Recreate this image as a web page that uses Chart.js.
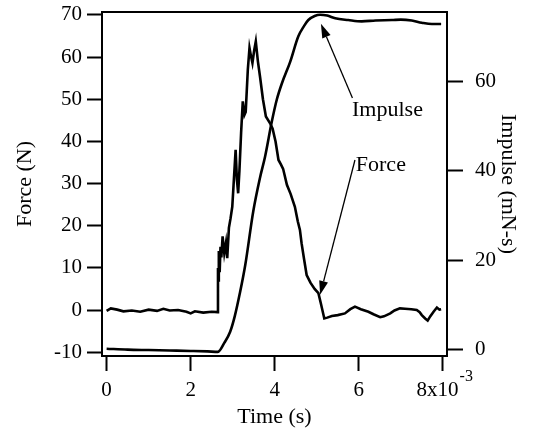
<!DOCTYPE html>
<html><head><meta charset="utf-8">
<script src="https://cdn.jsdelivr.net/npm/chart.js@4"></script>
<style>html,body{margin:0;padding:0;background:#fff}canvas{display:block}</style>
</head><body>
<canvas id="c" width="535" height="430"></canvas>
<script>
// ---- data ----
const forceTime = [0,0.1,0.25,0.4,0.6,0.8,1.0,1.2,1.35,1.5,1.7,1.9,2.0,2.1,2.3,2.5,2.64,
  2.65,2.66,2.67,2.69,2.71,2.73,2.76,2.80,2.84,2.87,2.91,2.95,2.99,3.02,3.07,3.10,3.13,3.16,3.20,3.24,3.28,3.31,3.36,3.40,3.44,3.47,3.51,3.55,3.60,3.65,3.72,3.79,3.89,3.95,4.02,4.09,4.15,4.20,4.29,4.38,4.48,4.55,4.60,4.64,4.70,4.76,4.85,4.95,5.04,5.10,5.18,
  5.25,5.36,5.50,5.67,5.80,5.91,6.05,6.23,6.35,6.51,6.60,6.75,6.85,6.98,7.10,7.25,7.38,7.45,7.50,7.58,7.64,7.70,7.78,7.86,7.92,7.96];
const forceValues = [-0.2,0.4,0.1,-0.3,-0.1,-0.4,0.1,-0.2,0.3,-0.1,0.0,-0.4,-0.8,-0.3,-0.6,-0.4,-0.5,
  10,7,14,9,15,12.5,17.5,13.5,16,12.3,19.5,21.8,24.5,29.5,38,31,27.7,33,42,49.5,46.3,47,57,62.2,60,58.6,61.5,63.7,59,55.4,50,45.9,44.3,43,40,35.6,34.5,33.5,29.7,27.5,24.5,21,19,15.8,12,8.3,6.5,5,4,1.5,-2,
  -1.8,-1.4,-1.2,-0.8,0.2,0.8,0.2,-0.4,-1,-1.7,-1.5,-0.8,-0.1,0.4,0.3,0.2,0,-0.5,-1.2,-2,-2.5,-1.5,-0.4,0.6,0.1,0.2];
const impulseTime = [0,0.5,1.0,1.5,2.0,2.4,2.65,2.8,2.94,3.05,3.17,3.3,3.49,3.65,3.77,3.93,4.05,4.17,4.37,4.56,4.7,4.8,4.95,5.08,5.25,5.44,5.75,6.07,6.4,6.79,7.0,7.26,7.5,7.74,7.96];
const impulseValues = [0.2,0.0,-0.1,-0.2,-0.3,-0.4,-0.5,1.5,4,7.5,12.6,19,31,38.5,43.2,51,56,59.6,64.5,70.1,72.5,73.8,74.7,75,74.8,74.2,73.8,73.5,73.7,73.8,73.9,73.7,73.2,72.9,72.9];
const timeTicks = [0,2,4,6,8];
const forceTicks = [-10,0,10,20,30,40,50,60,70];
const impulseTicks = [0,20,40,60];
const timeExponent = '-3';
const annotationLabels = ['Impulse','Force'];

const FONT = 'Liberation Serif';
const tickFont = {family: FONT, size: 21};
const titleFont = {family: FONT, size: 22};

const annotations = [
  {text: annotationLabels[0], tx: 5.84, ty: 47.5, from: [5.85, 50.3], to: [5.10, 67.9]},
  {text: annotationLabels[1], tx: 5.93, ty: 34.4, from: [5.91, 35.6], to: [5.08, 3.6]}
];

const extras = {
  id: 'extras',
  beforeDraw(chart) {
    const ctx = chart.ctx;
    ctx.save(); ctx.fillStyle = '#fff'; ctx.fillRect(0, 0, chart.width, chart.height); ctx.restore();
  },
  afterDraw(chart) {
    const ctx = chart.ctx, xs = chart.scales.x, ys = chart.scales.y, a = chart.chartArea;
    ctx.save();
    // top frame line
    ctx.strokeStyle = '#000'; ctx.lineWidth = 2;
    ctx.beginPath(); ctx.moveTo(a.left - 1, a.top); ctx.lineTo(a.right + 1, a.top); ctx.stroke();
    // annotations
    ctx.font = '22px "' + FONT + '"';
    ctx.fillStyle = '#000'; ctx.textBaseline = 'middle'; ctx.textAlign = 'left';
    annotations.forEach(an => {
      ctx.fillText(an.text, xs.getPixelForValue(an.tx), ys.getPixelForValue(an.ty));
      const x1 = xs.getPixelForValue(an.from[0]), y1 = ys.getPixelForValue(an.from[1]);
      const x2 = xs.getPixelForValue(an.to[0]), y2 = ys.getPixelForValue(an.to[1]);
      const ang = Math.atan2(y2 - y1, x2 - x1), L = 14, W = 4.5;
      const bx = x2 - L * Math.cos(ang), by = y2 - L * Math.sin(ang);
      ctx.lineWidth = 1.3;
      ctx.beginPath(); ctx.moveTo(x1, y1); ctx.lineTo(bx, by); ctx.stroke();
      ctx.beginPath();
      ctx.moveTo(x2, y2);
      ctx.lineTo(bx + W * Math.sin(ang), by - W * Math.cos(ang));
      ctx.lineTo(bx - W * Math.sin(ang), by + W * Math.cos(ang));
      ctx.closePath(); ctx.fill();
    });
    // exponent on last time tick
    ctx.font = '21px "' + FONT + '"';
    const last = timeTicks[timeTicks.length - 1];
    const px = xs.getPixelForValue(last);
    const w = ctx.measureText(last + 'x10  ').width, w0 = ctx.measureText(last + 'x10').width;
    ctx.font = '16px "' + FONT + '"';
    ctx.textBaseline = 'middle';
    ctx.fillText(timeExponent, px - w / 2 + w0 + 1, xs.top + 21);
    ctx.restore();
  }
};

const axisCommon = {
  border: {display: true, color: '#000', width: 2},
  grid: {drawOnChartArea: false, drawTicks: true, tickLength: 15, tickWidth: 2, tickColor: '#000', color: '#000'},
};
const fixV = w => s => { s.width = w; s.paddingTop = 12; s.paddingBottom = 0; };

new Chart(document.getElementById('c'), {
  type: 'line',
  data: {
    datasets: [
      {label: 'Force', data: forceTime.map((t, i) => ({x: t, y: forceValues[i]})), yAxisID: 'y',
       borderColor: '#000', borderWidth: 2.6, pointRadius: 0, tension: 0, fill: false},
      {label: 'Impulse', data: impulseTime.map((t, i) => ({x: t, y: impulseValues[i]})), yAxisID: 'y2',
       borderColor: '#000', borderWidth: 2.6, pointRadius: 0, cubicInterpolationMode: 'monotone', fill: false}
    ]
  },
  options: {
    responsive: false, animation: false, devicePixelRatio: 1,
    layout: {padding: {top: 0, left: 0, right: 0, bottom: 0}},
    plugins: {legend: {display: false}, tooltip: {enabled: false}},
    scales: {
      x: {type: 'linear', position: 'bottom', min: -0.11, max: 8.1,
        ...axisCommon,
        afterBuildTicks: s => { s.ticks = timeTicks.map(v => ({value: v})); },
        afterFit: s => { s.height = 74; s.paddingLeft = 0; s.paddingRight = 0; },
        ticks: {color: '#000', font: tickFont, padding: 7, maxRotation: 0, autoSkip: false,
          callback: v => v === timeTicks[timeTicks.length - 1] ? v + 'x10  ' : String(v)},
        title: {display: true, text: 'Time (s)', color: '#000', font: titleFont, padding: {top: 0, bottom: 0}}
      },
      y: {type: 'linear', position: 'left', min: -10.9, max: 70.7,
        ...axisCommon,
        afterBuildTicks: s => { s.ticks = forceTicks.map(v => ({value: v})); },
        afterFit: fixV(102),
        ticks: {color: '#000', font: tickFont, padding: 5, autoSkip: false},
        title: {display: true, text: 'Force (N)', color: '#000', font: titleFont, padding: {top: 12, bottom: 0}}
      },
      y2: {type: 'linear', position: 'right', min: -1.43, max: 75.6,
        ...axisCommon,
        grid: {...axisCommon.grid, tickLength: 16},
        afterBuildTicks: s => { s.ticks = impulseTicks.map(v => ({value: v})); },
        afterFit: fixV(88),
        ticks: {color: '#000', font: tickFont, padding: 12, autoSkip: false},
        title: {display: true, text: 'Impulse (mN-s)', color: '#000', font: titleFont, padding: {top: 14, bottom: 0}}
      }
    }
  },
  plugins: [extras]
});
</script>
</body></html>
